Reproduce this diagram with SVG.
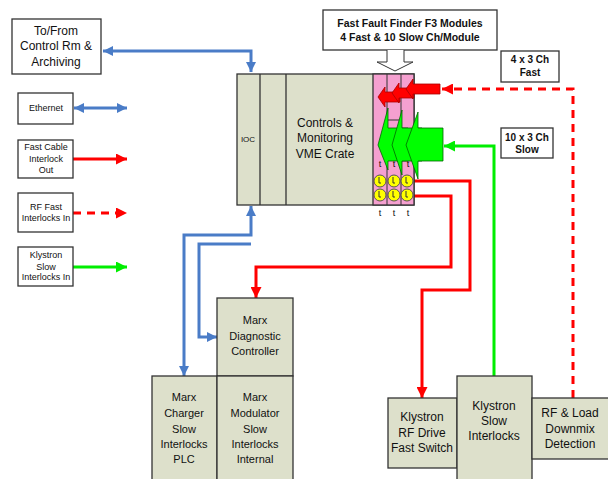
<svg xmlns="http://www.w3.org/2000/svg" width="608" height="479" viewBox="0 0 608 479">
<defs>
<style>
text{font-family:"Liberation Sans",Arial,sans-serif;fill:#111;text-anchor:middle}
.box{fill:#fff;stroke:#333;stroke-width:1.3}
.node{fill:#dde0cb;stroke:#333;stroke-width:1.3}
.blue{fill:none;stroke:#4a7cc7;stroke-width:3}
.red{fill:none;stroke:#ff0000;stroke-width:3}
.dash{fill:none;stroke:#ff0000;stroke-width:3;stroke-dasharray:8,6}
.green{fill:none;stroke:#00ee00;stroke-width:3}
.t12{font-size:12px}
.t11{font-size:11px}
.t9{font-size:9px}
.b{font-weight:bold}
.ra{fill:#ff0000;stroke:#a00;stroke-width:0.8}
.ga{fill:#00ff00;stroke:#060;stroke-width:0.8}
.bulb{fill:#ffff00;stroke:#555;stroke-width:1}
</style>
<marker id="ab" viewBox="0 0 10 10" refX="10" refY="5" markerWidth="11" markerHeight="10" markerUnits="userSpaceOnUse" orient="auto-start-reverse"><path d="M0,0L10,5L0,10z" fill="#4a7cc7"/></marker>
<marker id="ar" viewBox="0 0 10 10" refX="10" refY="5" markerWidth="12" markerHeight="11" markerUnits="userSpaceOnUse" orient="auto-start-reverse"><path d="M0,0L10,5L0,10z" fill="#ff0000"/></marker>
<marker id="ag" viewBox="0 0 10 10" refX="10" refY="5" markerWidth="12" markerHeight="11" markerUnits="userSpaceOnUse" orient="auto-start-reverse"><path d="M0,0L10,5L0,10z" fill="#00ee00"/></marker>
</defs>
<rect width="608" height="479" fill="#fff"/>

<g id="connectors">
<path class="blue" d="M251,72V51H103" marker-start="url(#ab)" marker-end="url(#ab)"/>
<path class="blue" d="M251,206V235H184V376" marker-start="url(#ab)" marker-end="url(#ab)"/>
<path class="blue" d="M251,244H199V337H217" marker-end="url(#ab)"/>
<path class="red" d="M414,181H470V290H422V398" marker-end="url(#ar)"/>
<path class="red" d="M414,196H451V267H256V298" marker-end="url(#ar)"/>
<path class="dash" d="M573,398V89H442" marker-end="url(#ar)"/>
<path class="green" d="M494,376V146H444" marker-end="url(#ag)"/>
<path class="blue" d="M74,108H127" marker-start="url(#ab)" marker-end="url(#ab)"/>
<path class="red" d="M73,159H127" marker-end="url(#ar)"/>
<path class="dash" d="M73,213H127" marker-end="url(#ar)"/>
<path class="green" d="M73,267H127" marker-end="url(#ag)"/>
</g>

<g id="to-from">
<rect class="box" x="12" y="19" width="89" height="55"/>
<text class="t12" x="56" y="35">To/From</text>
<text class="t12" x="56" y="50">Control Rm &amp;</text>
<text class="t12" x="56" y="66">Archiving</text>
</g>
<g id="legend-ethernet">
<rect class="box" x="18" y="93" width="55" height="31"/>
<text class="t9" x="46" y="111">Ethernet</text>
</g>
<g id="legend-fast-cable">
<rect class="box" x="18" y="140" width="55" height="38"/>
<text class="t9" x="46" y="150">Fast Cable</text>
<text class="t9" x="46" y="162">Interlock</text>
<text class="t9" x="46" y="173">Out</text>
</g>
<g id="legend-rf-fast">
<rect class="box" x="18" y="193" width="55" height="39"/>
<text class="t9" x="46" y="210">RF Fast</text>
<text class="t9" x="46" y="221">Interlocks In</text>
</g>
<g id="legend-klystron-slow">
<rect class="box" x="18" y="247" width="55" height="39"/>
<text class="t9" x="46" y="258">Klystron</text>
<text class="t9" x="46" y="270">Slow</text>
<text class="t9" x="46" y="280">Interlocks In</text>
</g>

<g id="f3-label">
<rect class="box" x="323" y="10" width="174" height="40"/>
<text class="t11" x="410" y="27" style="font-weight:bold;font-size:10.5px">Fast Fault Finder F3 Modules</text>
<text class="t11" x="410" y="41" style="font-weight:bold;font-size:10.5px">4 Fast &amp; 10 Slow Ch/Module</text>
<path d="M387,50V62H377L395,71L413,62H404V50" fill="#fff" stroke="#333" stroke-width="1"/>
</g>

<g id="crate">
<rect class="node" x="237" y="74" width="177" height="131"/>
<line x1="260" y1="74" x2="260" y2="205" stroke="#333" stroke-width="1.3"/>
<line x1="286" y1="74" x2="286" y2="205" stroke="#333" stroke-width="1.3"/>
<text x="248" y="142" style="font-size:8px">IOC</text>
<text class="t12" x="325" y="127">Controls &amp;</text>
<text class="t12" x="325" y="142">Monitoring</text>
<text class="t12" x="325" y="158">VME Crate</text>
<rect x="373" y="74" width="41" height="131" fill="#f5a0d0" stroke="#333" stroke-width="1.3"/>
<g stroke="#333" stroke-width="1" fill="none">
<line x1="387" y1="74" x2="387" y2="205"/>
<line x1="401" y1="74" x2="401" y2="205"/>
<path d="M387,120H401"/>
<path d="M387,153H414"/>
</g>
<path class="ra" d="M378,97L385,87V92H400V102H385V107z"/>
<path class="ra" d="M392,93L399,83V88H414V98H399V103z"/>
<path class="ra" d="M406,89L413,79V84H440V94H413V99z"/>
<path class="ga" d="M378,145L388,108V128H408V161H388V170z"/>
<path class="ga" d="M392,145L402,110V128H422V161H402V175z"/>
<path class="ga" d="M406,145L418,112V128H443V161H418V179z"/>
<g font-size="9">
<text x="380" y="167">t</text><text x="394" y="167">t</text><text x="408" y="167">t</text>
<text x="380" y="216">t</text><text x="394" y="216">t</text><text x="408" y="216">t</text>
</g>
<g>
<circle class="bulb" cx="380" cy="181" r="6"/><circle class="bulb" cx="394" cy="181" r="6"/><circle class="bulb" cx="407" cy="181" r="6"/>
<circle class="bulb" cx="380" cy="195" r="6"/><circle class="bulb" cx="394" cy="195" r="6"/><circle class="bulb" cx="407" cy="195" r="6"/>
</g>
<g stroke="#333" stroke-width="1" fill="none">
<path d="M379,177v6h2M393,177v6h2M406,177v6h2M379,191v6h2M393,191v6h2M406,191v6h2"/>
</g>
</g>

<g id="fast-label">
<rect class="box" x="501" y="51" width="58" height="31"/>
<text x="530" y="63" style="font-size:10px;font-weight:bold">4 x 3 Ch</text>
<text x="530" y="76" style="font-size:10px;font-weight:bold">Fast</text>
</g>
<g id="slow-label">
<rect class="box" x="501" y="128" width="52" height="30"/>
<text x="527" y="141" style="font-size:10px;font-weight:bold">10 x 3 Ch</text>
<text x="527" y="153" style="font-size:10px;font-weight:bold">Slow</text>
</g>

<g id="marx-diagnostic">
<rect class="node" x="217" y="298" width="76" height="78"/>
<text class="t11" x="255" y="324">Marx</text>
<text class="t11" x="255" y="340">Diagnostic</text>
<text class="t11" x="255" y="355">Controller</text>
</g>
<g id="marx-charger">
<rect class="node" x="152" y="376" width="65" height="110"/>
<text class="t11" x="184" y="401">Marx</text>
<text class="t11" x="184" y="417">Charger</text>
<text class="t11" x="184" y="433">Slow</text>
<text class="t11" x="184" y="448">Interlocks</text>
<text class="t11" x="184" y="463">PLC</text>
</g>
<g id="marx-modulator">
<rect class="node" x="217" y="376" width="76" height="110"/>
<text class="t11" x="255" y="401">Marx</text>
<text class="t11" x="255" y="417">Modulator</text>
<text class="t11" x="255" y="433">Slow</text>
<text class="t11" x="255" y="448">Interlocks</text>
<text class="t11" x="255" y="463">Internal</text>
</g>
<g id="klystron-rf-drive">
<rect class="node" x="388" y="398" width="69" height="70"/>
<text class="t12" x="422" y="421">Klystron</text>
<text class="t12" x="422" y="437">RF Drive</text>
<text class="t12" x="422" y="452">Fast Switch</text>
</g>
<g id="klystron-slow">
<rect class="node" x="457" y="376" width="75" height="110"/>
<text class="t12" x="494" y="410">Klystron</text>
<text class="t12" x="494" y="425">Slow</text>
<text class="t12" x="494" y="440">Interlocks</text>
</g>
<g id="rf-load">
<rect class="node" x="532" y="398" width="78" height="61"/>
<text class="t12" x="570" y="417">RF &amp; Load</text>
<text class="t12" x="570" y="433">Downmix</text>
<text class="t12" x="570" y="448">Detection</text>
</g>
</svg>
